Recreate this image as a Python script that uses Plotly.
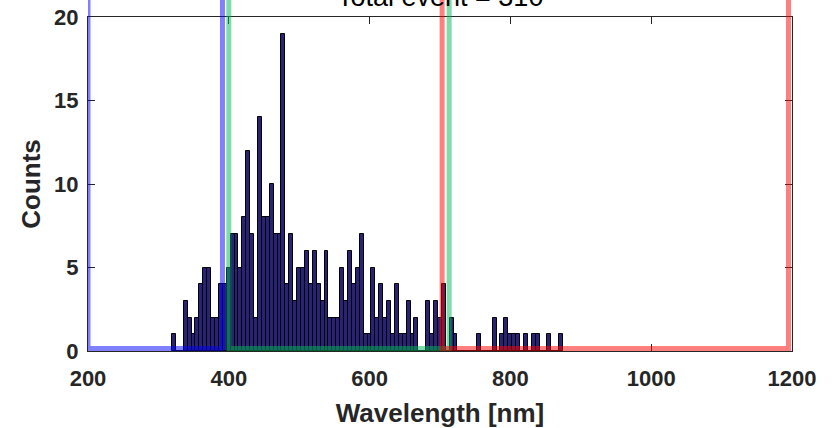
import plotly.graph_objects as go

# ---- data ----
WL_MIN = 319.3      # nm, first bin left edge
WL_MAX = 874.8      # nm, last bin right edge
N_BINS = 100
COUNTS = [1, 0, 0, 3, 2, 1, 2, 4, 5, 5, 2, 2, 4, 4, 5,
          7, 7, 5, 8, 12, 7, 2, 14, 8, 8, 10, 7, 7, 19, 4, 7, 3, 5,
          5, 6, 4, 6, 4, 3, 6, 2, 2, 2, 5, 3, 6, 4, 5, 7, 1,
          1, 5, 2, 4, 2, 3, 1, 4, 1, 1, 3, 1, 2, 0, 0, 3, 1, 3, 2, 4, 0, 2, 1,
          0, 0, 0, 0, 0, 1, 0, 0, 0, 2, 0, 1, 2, 1, 1, 1, 0, 1, 0, 1, 1, 0, 0, 1, 0, 0, 1]
TITLE = "Total event = 310"
X_TICKS = [200, 400, 600, 800, 1000, 1200]
Y_TICKS = [0, 5, 10, 15, 20]
BAND_NAMES = ["blue", "green", "red"]
BAND_START = [200, 400, 703]
BAND_END = [391, 713, 1195]
BAND_COLORS = ["rgba(0,0,255,0.5)", "rgba(0,185,85,0.5)", "rgba(255,0,0,0.5)"]

FONT = "Liberation Sans, Arial, Helvetica, sans-serif"
AX_COLOR = "#262626"

binw = (WL_MAX - WL_MIN) / N_BINS
centers = [WL_MIN + (i + 0.5) * binw for i in range(N_BINS)]

fig = go.Figure()
fig.add_trace(go.Bar(
    x=centers, y=COUNTS, width=binw,
    marker=dict(color="rgb(42,34,118)", line=dict(color="black", width=1)),
    showlegend=False, hoverinfo="x+y",
))

# spectral band boxes
for name, x0, x1, col in zip(BAND_NAMES, BAND_START, BAND_END, BAND_COLORS):
    ybot = 0.0075
    ytop = 1.2
    fig.add_shape(
        type="path", xref="x", yref="paper",
        path=f"M{x0},{ytop} L{x0},{ybot} L{x1},{ybot} L{x1},{ytop}",
        line=dict(color=col, width=5), layer="above",
    )

fig.add_annotation(
    text=TITLE, xref="paper", yref="paper", x=0.5, y=1, xanchor="center",
    yanchor="bottom", yshift=3, showarrow=False,
    font=dict(family=FONT, size=27, color="black"),
)

axis_common = dict(
    showline=True, linecolor=AX_COLOR, linewidth=1, mirror="ticks",
    ticks="inside", ticklen=7, tickwidth=1, tickcolor=AX_COLOR,
    showgrid=False, zeroline=False, automargin=False,
    tickfont=dict(family=FONT, size=22, color=AX_COLOR, weight="bold"),
)

fig.update_layout(
    width=833, height=428,
    margin=dict(l=88, r=41, t=17, b=77),
    paper_bgcolor="white", plot_bgcolor="white",
    bargap=0,
    xaxis=dict(range=[200, 1200], tickvals=X_TICKS, ticklabelstandoff=8,
               title=dict(text="Wavelength [nm]", standoff=15,
                          font=dict(family=FONT, size=26, color=AX_COLOR, weight="bold")),
               **axis_common),
    yaxis=dict(range=[0, 20], tickvals=Y_TICKS, ticklabelstandoff=4,
               title=dict(text="Counts", standoff=6,
                          font=dict(family=FONT, size=26, color=AX_COLOR, weight="bold")),
               **axis_common),
)

fig.write_html("out.html", config={"displayModeBar": False},
               post_script="document.body.style.margin='0px';")
